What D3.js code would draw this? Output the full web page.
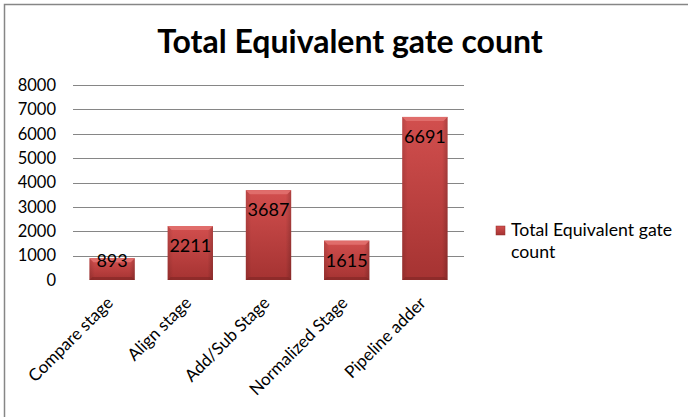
<!DOCTYPE html>
<html><head><meta charset="utf-8">
<script src="https://cdn.jsdelivr.net/npm/d3@7"></script>
<style>body{margin:0;background:#fff}svg{display:block}text{font-family:Lato,"Open Sans",sans-serif}</style>
</head><body><svg id="c" width="688" height="417"></svg>
<script>
const categories = ["Compare stage","Align stage","Add/Sub Stage","Normalized Stage","Pipeline adder"];
const values = [893, 2211, 3687, 1615, 6691];
const yTicks = [0,1000,2000,3000,4000,5000,6000,7000,8000];
const title = "Total Equivalent gate count";
const seriesName = "Total Equivalent gate count";

const svg = d3.select("#c");
const defs = svg.append("defs");
const g1 = defs.append("linearGradient").attr("id","barg").attr("x1",0).attr("y1",0).attr("x2",0).attr("y2",1);
g1.append("stop").attr("offset","0%").attr("stop-color","#d24f4e");
g1.append("stop").attr("offset","100%").attr("stop-color","#a53332");
const g2 = defs.append("linearGradient").attr("id","sideg").attr("x1",0).attr("y1",0).attr("x2",1).attr("y2",0);
g2.append("stop").attr("offset","0%").attr("stop-color","#000").attr("stop-opacity",0.12);
g2.append("stop").attr("offset","12%").attr("stop-color","#000").attr("stop-opacity",0);
g2.append("stop").attr("offset","88%").attr("stop-color","#000").attr("stop-opacity",0);
g2.append("stop").attr("offset","100%").attr("stop-color","#000").attr("stop-opacity",0.18);

// border
svg.append("rect").attr("x",4.5).attr("y",4.5).attr("width",720).attr("height",440)
  .attr("fill","none").attr("stroke","#868686").attr("stroke-width",1.5);

svg.append("text").attr("x",350).attr("y",53).attr("text-anchor","middle")
  .attr("font-size",32).attr("font-weight","bold").attr("fill","#000").text(title);

const x = d3.scaleBand().domain(categories).range([73,464]).paddingInner(0.42).paddingOuter(0.21);
const y = d3.scaleLinear().domain([0,8000]).range([280,85]);

// gridlines
svg.append("g").selectAll("line").data(yTicks.filter(d=>d>0)).join("line")
  .attr("x1",73).attr("x2",464).attr("y1",d=>Math.round(y(d))+0.5).attr("y2",d=>Math.round(y(d))+0.5)
  .attr("stroke","#868686").attr("stroke-width",1);

// y axis
const ya = svg.append("g").attr("transform","translate(73,0)")
  .call(d3.axisLeft(y).tickValues(yTicks).tickSize(0).tickPadding(17).tickFormat(d3.format("d")));
ya.select(".domain").remove();
ya.selectAll("text").attr("font-size",16.5).attr("fill","#000").style("font-family","Lato,'Open Sans',sans-serif");

// bars
const bars = svg.append("g").selectAll("g").data(values).join("g");
bars.append("rect").attr("x",(d,i)=>x(categories[i])).attr("y",d=>y(d))
  .attr("width",x.bandwidth()).attr("height",d=>y(0)-y(d)).attr("fill","url(#barg)");
bars.append("rect").attr("x",(d,i)=>x(categories[i])).attr("y",d=>y(d))
  .attr("width",x.bandwidth()).attr("height",d=>y(0)-y(d)).attr("fill","url(#sideg)");
// bevel top
bars.append("path").attr("d",(d,i)=>{
  const x0=x(categories[i]), x1=x0+x.bandwidth(), t=y(d), b=4;
  return `M${x0},${t}L${x1},${t}L${x1-b},${t+b}L${x0+b},${t+b}Z`;
}).attr("fill","#e06d6b");
bars.append("path").attr("d",(d,i)=>{
  const x0=x(categories[i]), x1=x0+x.bandwidth(), t=y(d), bt=y(0), b=3;
  return `M${x0},${bt}L${x1},${bt}L${x1-b},${bt-b}L${x0+b},${bt-b}Z`;
}).attr("fill","#7f2625").attr("opacity",0.6);
bars.append("text").attr("x",(d,i)=>x(categories[i])+x.bandwidth()/2)
  .attr("y",d=>Math.min(y(d)+26, y(0)-13))
  .attr("text-anchor","middle").attr("font-size",18).attr("fill","#000").text(d=>d);

// x labels
svg.append("g").selectAll("text").data(categories).join("text")
  .attr("transform",d=>`translate(${x(d)+x.bandwidth()/2+2},${304}) rotate(-45)`)
  .attr("text-anchor","end").attr("font-size",17).attr("fill","#000").text(d=>d);

// legend
svg.append("rect").attr("x",496).attr("y",226).attr("width",9).attr("height",9).attr("fill","url(#barg)")
  .attr("stroke","#8f2c2b").attr("stroke-width",0.5);
const lt = svg.append("text").attr("x",511).attr("y",236).attr("font-size",17.7).attr("fill","#000");
lt.append("tspan").attr("x",511).text("Total Equivalent gate");
lt.append("tspan").attr("x",511).attr("dy",22).text("count");
</script></body></html>
